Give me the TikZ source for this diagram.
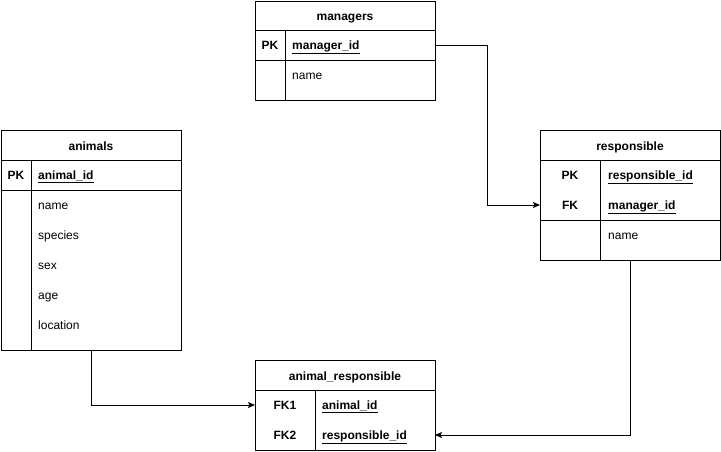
\documentclass[tikz,border=0pt]{standalone}
\usepackage{fontspec}
\setmainfont{Liberation Sans}
\usetikzlibrary{arrows.meta}
\begin{document}
\begin{tikzpicture}[x=1pt,y=-1pt,
  box/.style={draw=black,line width=0.9pt,fill=white,anchor=north west,inner sep=0pt,outer sep=0pt},
  sep/.style={draw=black,line width=0.9pt},
  row/.style={minimum height=30pt,inner sep=0pt,outer sep=0pt},
  txt/.style={font=\fontsize{12}{14}\selectfont,text height=10pt,text depth=1pt,inner sep=0pt},
  hdr/.style={txt,font=\fontsize{12}{14}\selectfont\bfseries},
  key/.style={txt,font=\fontsize{12}{14}\selectfont\bfseries},
  keyname/.style={txt,font=\fontsize{12}{14}\selectfont\bfseries,anchor=west},
  fld/.style={txt,anchor=west},
  conn/.style={draw=black,line width=0.9pt,-{Stealth[length=7pt,width=6pt,inset=1.5pt]}}]
\useasboundingbox (0,0) rectangle (721,451);

% managers
\node[box,minimum width=180pt,minimum height=99pt] (mgr) at (255,1) {};
\node[hdr] (mgrh) at (345,16) {managers};
\draw[sep] (255,30) -- (435,30);
\draw[sep] (255,60) -- (435,60);
\draw[sep] (285,30) -- (285,100);
\node[row,minimum width=180pt] (mgrpk) at (345,45) {};
\node[key] (mgrpkk) at (270,45) {PK};
\node[keyname] (mgrpkn) at (292,45) {\underline{manager\_id}};
\node[fld] (mgrname) at (292,75) {name};

% animals
\node[box,minimum width=180pt,minimum height=220pt] (ani) at (1,130) {};
\node[hdr] (anih) at (91,146) {animals};
\draw[sep] (1,160) -- (181,160);
\draw[sep] (1,190) -- (181,190);
\draw[sep] (31,160) -- (31,350);
\node[key] (anipkk) at (16,175) {PK};
\node[keyname] (anipkn) at (38,175) {\underline{animal\_id}};
\node[fld] (ani1) at (38,205) {name};
\node[fld] (ani2) at (38,235) {species};
\node[fld] (ani3) at (38,265) {sex};
\node[fld] (ani4) at (38,295) {age};
\node[fld] (ani5) at (38,325) {location};

% responsible
\node[box,minimum width=180pt,minimum height=130pt] (resp) at (540,130) {};
\node[hdr] (resph) at (630,146) {responsible};
\draw[sep] (540,160) -- (720,160);
\draw[sep] (540,220) -- (720,220);
\draw[sep] (600,160) -- (600,260);
\node[key] (resppkk) at (570,175) {PK};
\node[keyname] (resppkn) at (608,175) {\underline{responsible\_id}};
\node[row,minimum width=180pt] (respfk) at (630,205) {};
\node[key] (respfkk) at (570,205) {FK};
\node[keyname] (respfkn) at (608,205) {\underline{manager\_id}};
\node[fld] (respname) at (608,235) {name};

% animal_responsible
\node[box,minimum width=180pt,minimum height=90pt] (ar) at (255,360) {};
\node[hdr] (arh) at (345,376) {animal\_responsible};
\draw[sep] (255,390) -- (435,390);
\draw[sep] (315,390) -- (315,450);
\node[row,minimum width=180pt] (arfk1) at (345,405) {};
\node[row,minimum width=180pt] (arfk2) at (345,435) {};
\node[key] (arfk1k) at (285,405) {FK1};
\node[keyname] (arfk1n) at (322,405) {\underline{animal\_id}};
\node[key] (arfk2k) at (285,435) {FK2};
\node[keyname] (arfk2n) at (322,435) {\underline{responsible\_id}};

% connectors
\draw[conn] (mgrpk.east) -- (487,45) |- (respfk.west);
\draw[conn] (ani.south) |- (arfk1.west);
\draw[conn] (resp.south) |- (arfk2.east);
\end{tikzpicture}
\end{document}
